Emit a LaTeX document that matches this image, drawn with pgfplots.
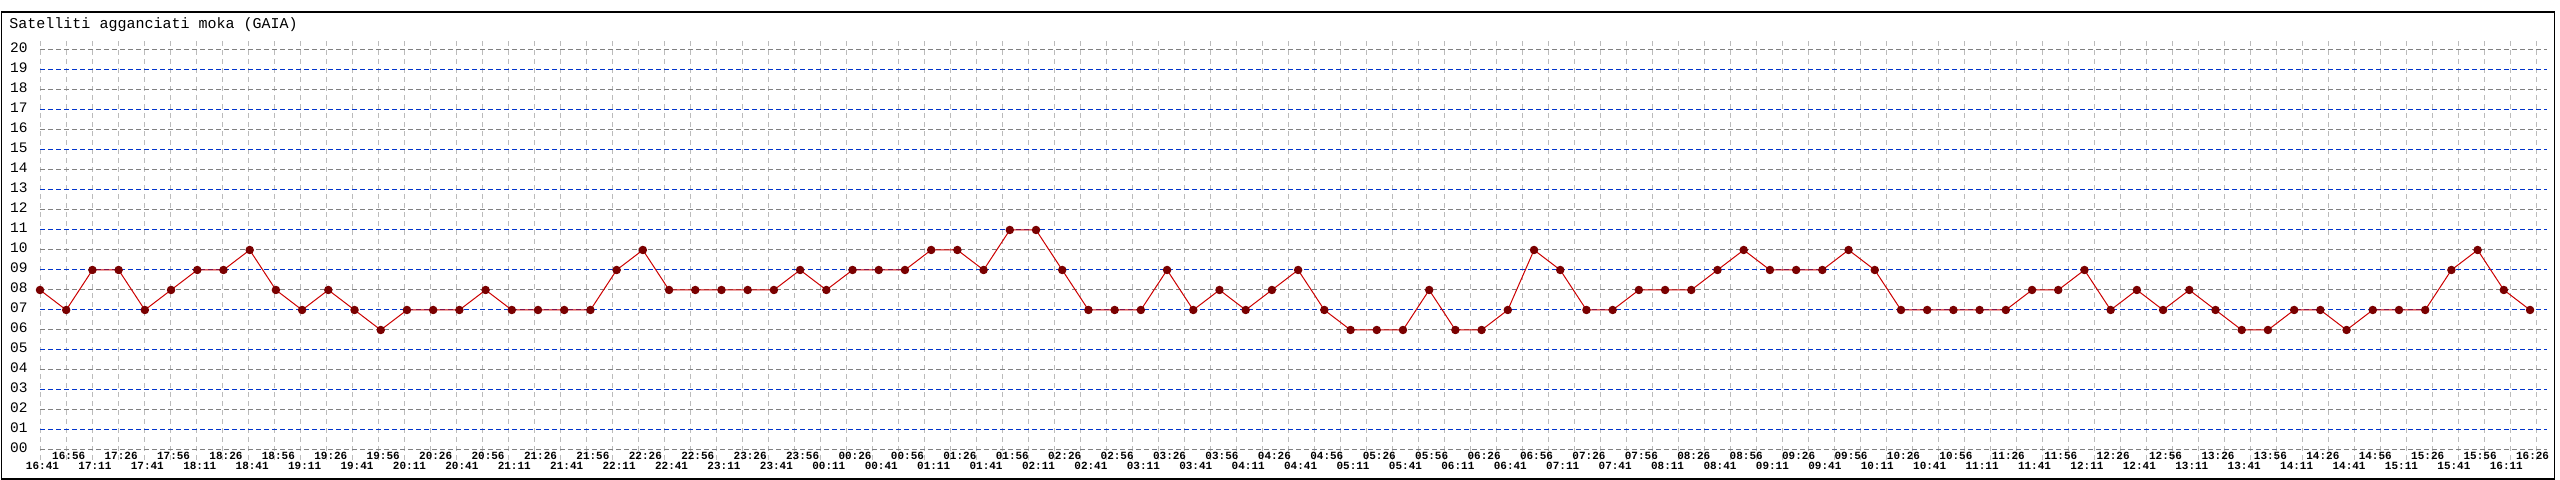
\documentclass[border=0pt]{standalone}
\usepackage{fontspec}
\setmainfont{Liberation Mono}
\usepackage{pgfplots}
\pgfplotsset{compat=1.18}
\definecolor{gridgray}{HTML}{808080}
\definecolor{gridblue}{HTML}{0033CC}
\definecolor{vgrid}{HTML}{BBBBBB}
\definecolor{linered}{HTML}{CC0000}
\definecolor{markred}{HTML}{7A0000}
\newcommand{\up}[1]{\raisebox{10bp}{#1}}
\begin{document}
\begin{tikzpicture}[x=1bp,y=1bp]
\useasboundingbox (0,0) rectangle (2560,480);
\draw[line width=1.3bp] (1.5,1) rectangle (2554.5,468);
\node[anchor=base west, inner sep=0pt, font=\fontsize{15bp}{15bp}\selectfont] at (9.3,451.7) {Satelliti agganciati moka (GAIA)};
% vertical grid only
\begin{axis}[
  at={(40bp,30bp)}, anchor=origin,
  x=26.2105bp, y=20bp,
  xmin=0, xmax=95.65, ymin=-0.5, ymax=20.5,
  axis line style={draw=none},
  major tick length=0pt,
  xtick={0,0.991969,1.983938,2.975907,3.967876,4.959845,5.951814,6.943783,7.935752,8.927721,9.91969,10.911659,11.903628,12.895597,13.887566,14.879535,15.871504,16.863473,17.855442,18.847411,19.83938,20.831349,21.823318,22.815287,23.807256,24.799225,25.791194,26.783163,27.775132,28.767101,29.75907,30.751039,31.743008,32.734977,33.726946,34.718915,35.710884,36.702853,37.694822,38.686791,39.67876,40.670729,41.662698,42.654667,43.646636,44.638605,45.630574,46.622543,47.614512,48.606481,49.59845,50.590419,51.582388,52.574357,53.566326,54.558295,55.550264,56.542233,57.534202,58.526171,59.51814,60.510109,61.502078,62.494047,63.486016,64.477985,65.469954,66.461923,67.453892,68.445861,69.43783,70.429799,71.421768,72.413737,73.405706,74.397675,75.389644,76.381613,77.373582,78.365551,79.35752,80.349489,81.341458,82.333427,83.325396,84.317365,85.309334,86.301303,87.293272,88.285241,89.27721,90.269179,91.261148,92.253117,93.245086,94.237055,95.229024},
  xticklabels={},
  ytick=\empty,
  xmajorgrids=true,
  major grid style={vgrid, dash pattern=on 5bp off 4bp, line width=1bp},
]
\end{axis}
\begin{axis}[
  at={(40bp,30bp)}, anchor=origin,
  x=26.2105bp, y=20bp,
  xmin=0, xmax=95.65, ymin=-0.5, ymax=20.5,
  axis line style={draw=none},
  clip=false,
  major tick length=0pt,
  xtick={0,1,...,95},
  xticklabels={16:41,\up{16:56},17:11,\up{17:26},17:41,\up{17:56},18:11,\up{18:26},18:41,\up{18:56},19:11,\up{19:26},19:41,\up{19:56},20:11,\up{20:26},20:41,\up{20:56},21:11,\up{21:26},21:41,\up{21:56},22:11,\up{22:26},22:41,\up{22:56},23:11,\up{23:26},23:41,\up{23:56},00:11,\up{00:26},00:41,\up{00:56},01:11,\up{01:26},01:41,\up{01:56},02:11,\up{02:26},02:41,\up{02:56},03:11,\up{03:26},03:41,\up{03:56},04:11,\up{04:26},04:41,\up{04:56},05:11,\up{05:26},05:41,\up{05:56},06:11,\up{06:26},06:41,\up{06:56},07:11,\up{07:26},07:41,\up{07:56},08:11,\up{08:26},08:41,\up{08:56},09:11,\up{09:26},09:41,\up{09:56},10:11,\up{10:26},10:41,\up{10:56},11:11,\up{11:26},11:41,\up{11:56},12:11,\up{12:26},12:41,\up{12:56},13:11,\up{13:26},13:41,\up{13:56},14:11,\up{14:26},14:41,\up{14:56},15:11,\up{15:26},15:41,\up{15:56},16:11,\up{16:26}},
  xticklabel style={anchor=base, inner sep=0pt, yshift=-9.3bp, xshift=2.5bp, font=\fontsize{11bp}{11bp}\selectfont\bfseries},
  xmajorgrids=false,
  ymajorgrids=true,
  major grid style={gridgray, dash pattern=on 5bp off 3bp, line width=1bp},
  ytick={0,2,...,20},
  yticklabels={00,02,04,06,08,10,12,14,16,18,20},
  extra y ticks={1,3,...,19},
  extra y tick labels={01,03,05,07,09,11,13,15,17,19},
  extra y tick style={major grid style={gridblue, dash pattern=on 5bp off 3bp, line width=1bp}},
  yticklabel style={anchor=west, inner sep=0pt, xshift=-30bp, yshift=2bp, font=\fontsize{14.5bp}{14.5bp}\selectfont},
]
\addplot[linered, line width=1bp, mark=*, mark size=3.7bp, mark options={fill=markred, draw=markred, solid}] table {
x y
0 8
1 7
2 9
3 9
4 7
5 8
6 9
7 9
8 10
9 8
10 7
11 8
12 7
13 6
14 7
15 7
16 7
17 8
18 7
19 7
20 7
21 7
22 9
23 10
24 8
25 8
26 8
27 8
28 8
29 9
30 8
31 9
32 9
33 9
34 10
35 10
36 9
37 11
38 11
39 9
40 7
41 7
42 7
43 9
44 7
45 8
46 7
47 8
48 9
49 7
50 6
51 6
52 6
53 8
54 6
55 6
56 7
57 10
58 9
59 7
60 7
61 8
62 8
63 8
64 9
65 10
66 9
67 9
68 9
69 10
70 9
71 7
72 7
73 7
74 7
75 7
76 8
77 8
78 9
79 7
80 8
81 7
82 8
83 7
84 6
85 6
86 7
87 7
88 6
89 7
90 7
91 7
92 9
93 10
94 8
95 7
};
\end{axis}
\end{tikzpicture}
\end{document}
